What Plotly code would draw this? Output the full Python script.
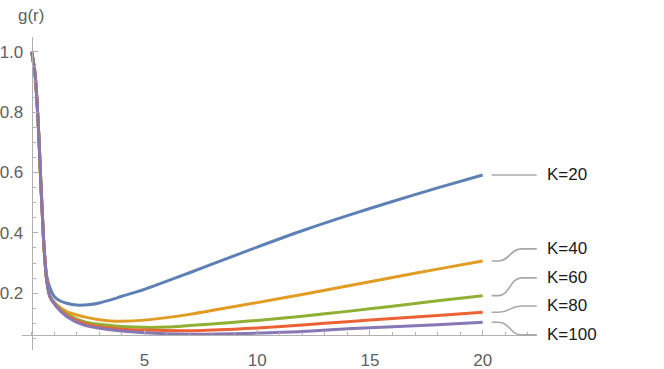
import plotly.graph_objects as go

# Valores
r_k20 = [0, 0.146, 0.248, 0.324, 0.40, 0.47, 0.545, 0.665, 0.81, 1.0, 1.25, 1.55, 2.0, 2.5, 3.0, 3.5, 4, 5, 7, 9, 10, 12, 14, 16, 18, 20]
g_k20 = [1.0, 0.928, 0.818, 0.708, 0.575, 0.465, 0.357, 0.258, 0.218, 0.189, 0.175, 0.167, 0.161, 0.162, 0.168, 0.178, 0.19, 0.213, 0.268, 0.325, 0.353, 0.407, 0.457, 0.504, 0.549, 0.592]

r_k40 = [0, 0.146, 0.248, 0.324, 0.40, 0.47, 0.545, 0.665, 0.81, 1.09, 1.55, 2.29, 3.0, 3.5, 4, 5, 7, 9, 10, 12, 14, 16, 18, 20]
g_k40 = [1.0, 0.928, 0.818, 0.708, 0.575, 0.465, 0.354, 0.244, 0.19, 0.163, 0.139, 0.1225, 0.112, 0.108, 0.107, 0.111, 0.13, 0.156, 0.169, 0.196, 0.224, 0.252, 0.28, 0.307]

r_k60 = [0, 0.146, 0.248, 0.324, 0.40, 0.47, 0.545, 0.665, 0.81, 1.09, 1.55, 2.29, 3.0, 4, 5, 6, 7, 9, 10, 12, 14, 16, 18, 20]
g_k60 = [1.0, 0.928, 0.818, 0.708, 0.575, 0.465, 0.354, 0.244, 0.189, 0.16, 0.131, 0.107, 0.097, 0.09, 0.087, 0.088, 0.093, 0.104, 0.11, 0.124, 0.14, 0.157, 0.175, 0.192]

r_k80 = [0, 0.146, 0.248, 0.324, 0.40, 0.47, 0.545, 0.665, 0.81, 1.09, 1.55, 2.29, 3.0, 4, 5, 7, 9, 10, 12, 14, 16, 18, 20]
g_k80 = [1.0, 0.928, 0.818, 0.708, 0.575, 0.465, 0.354, 0.244, 0.189, 0.158, 0.127, 0.101, 0.089, 0.081, 0.078, 0.076, 0.081, 0.085, 0.095, 0.106, 0.116, 0.126, 0.137]

r_k100 = [0, 0.146, 0.248, 0.324, 0.40, 0.47, 0.545, 0.665, 0.81, 1.09, 1.55, 2.29, 3.0, 4, 5, 7, 9, 10, 12, 14, 16, 18, 20]
g_k100 = [1.0, 0.928, 0.818, 0.708, 0.575, 0.465, 0.354, 0.244, 0.189, 0.156, 0.123, 0.095, 0.084, 0.075, 0.069, 0.064, 0.066, 0.068, 0.073, 0.082, 0.089, 0.096, 0.104]

etiquetas = ["K=20", "K=40", "K=60", "K=80", "K=100"]
y_etiquetas = [0.592, 0.347, 0.251, 0.158, 0.062]

x_ticks = [5, 10, 15, 20]
y_ticks = [0.2, 0.4, 0.6, 0.8, 1.0]

# Colores por defecto de Mathematica
COLORES = ["#5E81B5", "#E19C24", "#8FB032", "#EB6235", "#8778B3"]
GRIS_EJE = "#B0B0B0"
GRIS_TEXTO = "#606060"
FUENTE = "Liberation Sans"

series = [(r_k20, g_k20), (r_k40, g_k40), (r_k60, g_k60), (r_k80, g_k80), (r_k100, g_k100)]

x_rango = [-0.43, 22.41]
y_rango = [0.012, 1.049]
cruce_y = 0.062  # valor de y donde corta el eje x

fig = go.Figure()

for (r, g), color, nombre in zip(series, COLORES, etiquetas):
    fig.add_trace(go.Scatter(
        x=r, y=g, mode="lines", name=nombre,
        line=dict(color=color, width=3, shape="spline", smoothing=0.8),
        showlegend=False, hoverinfo="skip"
    ))

# Líneas guía y etiquetas a la derecha
xa, xb, xc, xd = 20.40, 20.69, 21.73, 22.40
xm = (xb + xc) / 2
x_texto = 22.77
for (r, g), nombre, y_lab in zip(series, etiquetas, y_etiquetas):
    y0 = g[-1]
    camino = (f"M {xa},{y0} L {xb},{y0} C {xm},{y0} {xm},{y_lab} {xc},{y_lab} "
              f"L {xd},{y_lab}")
    fig.add_shape(type="path", path=camino, xref="x", yref="y",
                  line=dict(color="#A8A8A8", width=1.6))
    fig.add_annotation(
        x=(x_texto - x_rango[0]) / (x_rango[1] - x_rango[0]), xref="paper",
        y=y_lab, yref="y", text=nombre, showarrow=False,
        xanchor="left", yanchor="middle",
        font=dict(family=FUENTE, size=17, color="#1A1A1A")
    )

fig.add_annotation(
    x=0.0175, y=1.07, xref="paper", yref="paper", text="g(r)",
    showarrow=False, xanchor="center", yanchor="middle",
    font=dict(family=FUENTE, size=17, color=GRIS_TEXTO)
)

fig.update_layout(
    width=664, height=369,
    margin=dict(l=22, r=127, t=37, b=19, autoexpand=False),
    plot_bgcolor="white", paper_bgcolor="white",
    font=dict(family=FUENTE, size=17, color=GRIS_TEXTO),
    showlegend=False,
)

fig.update_xaxes(
    range=x_rango, showgrid=False, zeroline=False, automargin=False,
    showline=True, linecolor=GRIS_EJE, linewidth=1,
    anchor="free", position=(cruce_y - y_rango[0]) / (y_rango[1] - y_rango[0]),
    tickmode="array", tickvals=x_ticks, ticks="inside", ticklen=5,
    tickcolor=GRIS_EJE, tickwidth=1, ticklabelstandoff=10,
    tickfont=dict(family=FUENTE, size=17, color=GRIS_TEXTO),
    minor=dict(tickmode="linear", tick0=0, dtick=1, ticks="inside",
               ticklen=3, tickcolor=GRIS_EJE, tickwidth=1, showgrid=False),
)

fig.update_yaxes(
    range=y_rango, showgrid=False, zeroline=False, automargin=False,
    showline=True, linecolor=GRIS_EJE, linewidth=1,
    anchor="free", position=(0 - x_rango[0]) / (x_rango[1] - x_rango[0]),
    tickmode="array", tickvals=y_ticks, ticktext=[f"{v:.1f}" for v in y_ticks],
    ticks="inside", ticklen=5, tickcolor=GRIS_EJE, tickwidth=1,
    ticklabelstandoff=5,
    tickfont=dict(family=FUENTE, size=17, color=GRIS_TEXTO),
    minor=dict(tickmode="linear", tick0=0, dtick=0.05, ticks="inside",
               ticklen=3, tickcolor=GRIS_EJE, tickwidth=1, showgrid=False),
)

# Quitar el margen por defecto del body para que la figura empiece en (0, 0)
fig.write_html("out.html", config={"displayModeBar": False},
               post_script="document.body.style.margin = '0px';")
